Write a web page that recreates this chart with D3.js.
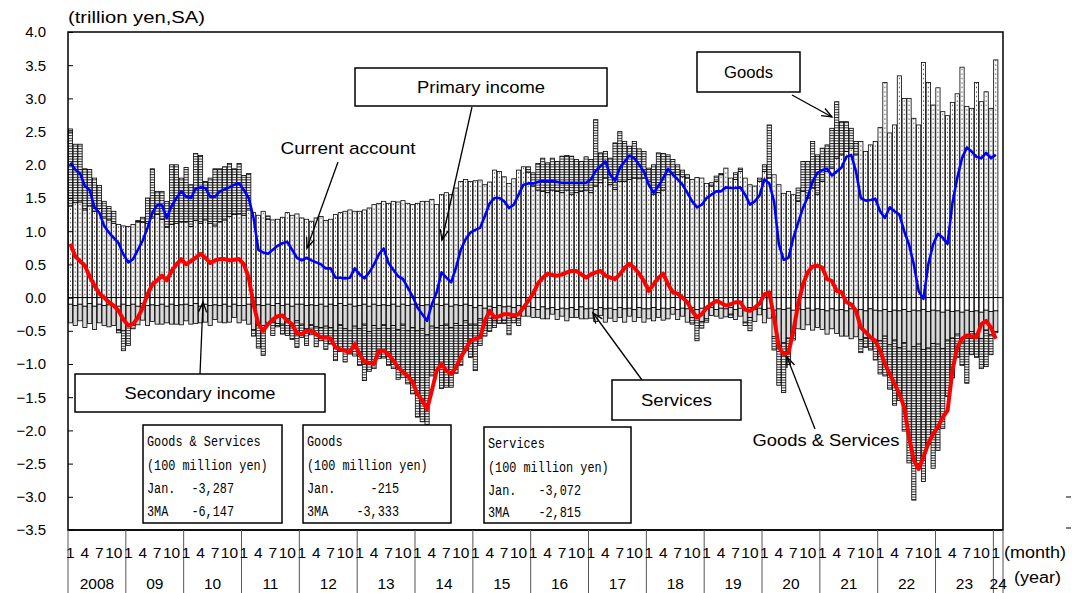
<!DOCTYPE html>
<html><head><meta charset="utf-8">
<script src="https://cdn.jsdelivr.net/npm/d3@7/dist/d3.min.js"></script>
<style>body{margin:0;background:#fff}svg{display:block}</style>
</head><body>
<svg id="chart" width="1072" height="593"></svg>
<script>
// ---------------- DATA (trillion yen, seasonally adjusted) ----------------
const startYear = 2008;
const yearLabels = ["2008","09","10","11","12","13","14","15","16","17","18","19","20","21","22","23","24"];
const monthTickLabels = ["1","4","7","10"];
const monthTickOffsets = [0,3,6,9];
const yTicks = [4.0,3.5,3.0,2.5,2.0,1.5,1.0,0.5,0.0,-0.5,-1.0,-1.5,-2.0,-2.5,-3.0,-3.5];

// monthly, Jan 2008 .. Jan 2024
const primaryIncome = [
1.38,1.43,1.44,1.32,1.38,1.30,1.34,1.20,1.17,1.12,1.10,1.08,
1.07,1.10,1.14,1.13,1.12,1.20,1.25,1.18,1.06,1.10,1.12,1.14,
1.14,1.07,1.16,1.12,1.17,1.12,1.08,1.14,1.17,1.22,1.25,1.26,
1.24,1.32,1.28,1.24,1.30,1.18,1.17,1.18,1.21,1.28,1.24,1.26,
1.20,1.18,1.15,1.20,1.22,1.16,1.18,1.25,1.28,1.30,1.32,1.30,
1.30,1.32,1.35,1.40,1.42,1.45,1.42,1.45,1.44,1.46,1.42,1.40,
1.42,1.45,1.45,1.48,1.40,1.55,1.58,1.55,1.65,1.75,1.78,1.75,
1.76,1.77,1.70,1.74,1.92,1.90,1.82,1.72,1.79,1.92,1.97,1.89,
1.68,1.62,1.60,1.58,1.62,1.60,1.58,1.62,1.55,1.58,1.60,1.62,
1.58,1.68,1.73,1.80,1.70,1.63,1.75,1.75,1.78,1.80,1.79,1.80,
1.75,1.55,1.58,1.62,1.85,1.88,1.85,1.82,1.80,1.78,1.81,1.80,
1.72,1.68,1.75,1.85,1.95,1.80,1.78,1.90,1.80,1.70,1.68,1.75,
1.90,1.80,1.85,1.70,1.57,1.60,1.55,1.45,1.60,1.50,1.65,1.55,
1.75,1.90,1.95,2.10,2.15,2.20,2.25,2.15,2.35,2.20,2.30,2.35,
2.56,3.24,2.48,2.60,3.34,3.00,3.00,2.70,2.60,3.54,3.24,2.90,
3.16,2.80,2.74,2.94,3.07,3.47,2.88,2.85,3.24,2.95,3.10,2.85,
3.58];

const goods = [
1.16,0.88,0.87,0.62,0.55,0.50,0.35,0.25,0.20,0.18,-0.05,-0.30,
-0.30,-0.05,0.02,0.08,0.38,0.74,0.35,0.42,0.39,0.90,0.88,0.66,
0.82,0.63,1.01,1.02,0.58,0.68,0.86,0.80,0.80,0.80,0.69,0.76,
0.60,0.55,-0.10,-0.35,-0.45,0.05,-0.20,-0.05,-0.15,-0.25,-0.20,-0.40,
-0.20,-0.25,-0.15,-0.30,-0.20,-0.35,-0.25,-0.45,-0.40,-0.50,-0.35,-0.45,
-0.55,-0.85,-0.60,-0.65,-0.45,-0.50,-0.55,-0.65,-0.75,-0.80,-0.80,-1.00,
-1.30,-1.40,-1.35,-0.75,-0.65,-0.95,-0.95,-0.90,-0.75,-0.60,-0.45,-0.50,
-0.70,-0.40,-0.20,-0.20,-0.10,-0.12,-0.05,-0.25,-0.08,-0.10,0.00,0.08,
0.20,0.40,0.50,0.45,0.48,0.45,0.55,0.52,0.58,0.50,0.45,0.50,
0.50,1.00,0.45,0.40,0.40,0.70,0.75,0.60,0.50,0.55,0.45,0.40,
0.20,0.45,0.60,0.55,0.30,0.20,0.15,0.10,0.05,-0.10,-0.35,-0.10,
-0.05,0.05,0.08,0.02,0.00,-0.05,0.10,0.05,-0.05,-0.20,0.00,0.05,
0.10,0.80,-0.20,-0.60,-0.75,-0.40,-0.10,0.20,0.45,0.55,0.70,0.60,
0.50,0.40,0.60,0.85,0.50,0.45,0.30,0.20,-0.20,-0.15,-0.20,-0.30,
-0.50,-0.60,-0.67,-0.98,-0.80,-1.33,-1.68,-2.31,-1.80,-1.99,-1.45,-1.88,
-1.60,-1.20,-0.85,-0.60,-0.35,-0.35,-0.70,-0.35,-0.35,-0.45,-0.55,-0.30,
-0.02];

const services = [
-0.28,-0.30,-0.25,-0.32,-0.30,-0.35,-0.28,-0.30,-0.33,-0.30,-0.35,-0.40,
-0.30,-0.32,-0.28,-0.25,-0.30,-0.25,-0.28,-0.30,-0.25,-0.30,-0.28,-0.30,
-0.25,-0.28,-0.30,-0.25,-0.27,-0.30,-0.22,-0.25,-0.28,-0.24,-0.20,-0.26,
-0.22,-0.30,-0.35,-0.30,-0.30,-0.28,-0.25,-0.30,-0.28,-0.22,-0.30,-0.25,
-0.30,-0.35,-0.30,-0.32,-0.35,-0.30,-0.35,-0.38,-0.32,-0.35,-0.40,-0.30,
-0.35,-0.30,-0.38,-0.32,-0.35,-0.30,-0.35,-0.32,-0.35,-0.30,-0.38,-0.35,
-0.40,-0.35,-0.45,-0.30,-0.35,-0.30,-0.30,-0.32,-0.28,-0.30,-0.25,-0.28,
-0.25,-0.20,-0.22,-0.18,-0.20,-0.15,-0.20,-0.18,-0.15,-0.20,-0.12,-0.15,
-0.15,-0.12,-0.18,-0.15,-0.10,-0.15,-0.12,-0.18,-0.15,-0.12,-0.18,-0.15,
-0.15,-0.18,-0.12,-0.20,-0.15,-0.18,-0.15,-0.20,-0.12,-0.18,-0.15,-0.20,
-0.15,-0.20,-0.12,-0.18,-0.15,-0.10,-0.15,-0.12,-0.20,-0.15,-0.12,-0.20,
-0.15,-0.12,-0.10,-0.15,-0.12,-0.10,-0.15,-0.12,-0.20,-0.15,-0.18,-0.10,
-0.20,-0.15,-0.40,-0.55,-0.50,-0.45,-0.35,-0.30,-0.30,-0.25,-0.30,-0.28,
-0.30,-0.35,-0.30,-0.35,-0.40,-0.38,-0.45,-0.40,-0.45,-0.40,-0.42,-0.45,
-0.45,-0.40,-0.50,-0.45,-0.55,-0.50,-0.60,-0.55,-0.50,-0.60,-0.55,-0.50,
-0.50,-0.55,-0.45,-0.40,-0.35,-0.45,-0.40,-0.30,-0.35,-0.40,-0.30,-0.35,
-0.31];

const secondaryIncome = [
-0.10,-0.12,-0.10,-0.13,-0.09,-0.13,-0.10,-0.12,-0.11,-0.12,-0.13,-0.10,
-0.12,-0.10,-0.13,-0.09,-0.12,-0.11,-0.12,-0.10,-0.13,-0.10,-0.12,-0.11,
-0.10,-0.12,-0.09,-0.13,-0.10,-0.12,-0.11,-0.12,-0.10,-0.13,-0.10,-0.12,
-0.12,-0.10,-0.13,-0.11,-0.12,-0.10,-0.12,-0.09,-0.12,-0.10,-0.13,-0.10,
-0.10,-0.12,-0.11,-0.12,-0.10,-0.13,-0.10,-0.12,-0.09,-0.12,-0.10,-0.13,
-0.12,-0.10,-0.13,-0.10,-0.12,-0.11,-0.12,-0.10,-0.13,-0.10,-0.12,-0.10,
-0.10,-0.12,-0.11,-0.13,-0.10,-0.12,-0.10,-0.13,-0.11,-0.12,-0.10,-0.12,
-0.15,-0.12,-0.16,-0.13,-0.15,-0.12,-0.14,-0.13,-0.15,-0.12,-0.16,-0.13,
-0.15,-0.18,-0.14,-0.17,-0.15,-0.18,-0.16,-0.17,-0.15,-0.18,-0.14,-0.17,
-0.16,-0.18,-0.15,-0.17,-0.16,-0.18,-0.15,-0.17,-0.16,-0.18,-0.15,-0.17,
-0.17,-0.15,-0.18,-0.16,-0.17,-0.15,-0.18,-0.16,-0.17,-0.15,-0.18,-0.16,
-0.17,-0.15,-0.18,-0.16,-0.17,-0.15,-0.18,-0.16,-0.17,-0.15,-0.18,-0.16,
-0.18,-0.16,-0.19,-0.17,-0.18,-0.16,-0.19,-0.17,-0.18,-0.16,-0.19,-0.17,
-0.18,-0.20,-0.17,-0.19,-0.18,-0.20,-0.17,-0.19,-0.18,-0.20,-0.17,-0.19,
-0.20,-0.18,-0.21,-0.19,-0.20,-0.18,-0.21,-0.19,-0.20,-0.18,-0.21,-0.19,
-0.20,-0.22,-0.19,-0.21,-0.20,-0.22,-0.19,-0.21,-0.20,-0.22,-0.19,-0.21,
-0.20];

// 3-month moving averages (lines)
const currentAccount3MA = [
2.03,1.93,1.87,1.68,1.62,1.36,1.28,1.08,0.98,0.90,0.82,0.65,
0.53,0.58,0.72,0.86,1.05,1.28,1.39,1.39,1.20,1.38,1.50,1.60,
1.52,1.50,1.64,1.66,1.65,1.52,1.52,1.60,1.63,1.66,1.70,1.72,
1.62,1.50,1.20,0.72,0.68,0.66,0.72,0.78,0.82,0.84,0.72,0.60,
0.56,0.60,0.56,0.53,0.50,0.44,0.44,0.30,0.30,0.29,0.30,0.44,
0.35,0.29,0.38,0.50,0.65,0.74,0.52,0.42,0.32,0.28,0.15,0.02,
-0.15,-0.25,-0.35,-0.10,0.08,0.38,0.30,0.23,0.45,0.72,0.88,0.98,
1.02,1.05,1.23,1.42,1.50,1.50,1.45,1.35,1.40,1.55,1.70,1.72,
1.72,1.74,1.76,1.75,1.76,1.74,1.73,1.73,1.73,1.73,1.73,1.73,
1.78,1.91,1.98,2.05,1.85,1.76,1.95,2.05,2.14,2.10,2.00,1.90,
1.70,1.58,1.68,1.80,1.94,1.85,1.78,1.70,1.58,1.45,1.36,1.40,
1.50,1.55,1.60,1.60,1.66,1.65,1.65,1.66,1.55,1.40,1.45,1.54,
1.78,1.72,1.45,0.80,0.57,0.60,0.90,1.13,1.35,1.52,1.75,1.88,
1.92,1.94,1.84,1.90,1.96,2.12,2.15,1.90,1.50,1.46,1.47,1.49,
1.30,1.20,1.36,1.30,1.25,1.00,0.80,0.50,0.10,-0.02,0.50,0.80,
0.96,0.90,0.81,1.42,1.80,2.10,2.26,2.20,2.12,2.10,2.18,2.10,
2.15];

const goodsServices3MA = [
0.81,0.62,0.55,0.48,0.32,0.18,0.06,0.00,-0.07,-0.12,-0.20,-0.33,
-0.42,-0.40,-0.30,-0.15,0.05,0.20,0.26,0.33,0.26,0.40,0.50,0.58,
0.50,0.55,0.60,0.66,0.60,0.52,0.56,0.58,0.58,0.56,0.57,0.58,
0.50,0.30,-0.10,-0.40,-0.50,-0.40,-0.33,-0.28,-0.27,-0.35,-0.40,-0.54,
-0.55,-0.50,-0.50,-0.55,-0.60,-0.60,-0.62,-0.75,-0.78,-0.80,-0.82,-0.70,
-0.85,-0.97,-0.98,-1.00,-0.80,-0.80,-0.85,-0.95,-1.05,-1.12,-1.18,-1.27,
-1.45,-1.55,-1.68,-1.40,-1.10,-1.00,-1.10,-1.15,-1.05,-0.90,-0.78,-0.65,
-0.62,-0.60,-0.35,-0.20,-0.30,-0.28,-0.25,-0.25,-0.27,-0.25,-0.15,-0.05,
0.06,0.21,0.30,0.36,0.34,0.33,0.35,0.38,0.40,0.40,0.35,0.30,
0.35,0.38,0.40,0.33,0.30,0.28,0.35,0.45,0.51,0.45,0.36,0.25,
0.10,0.20,0.30,0.36,0.20,0.08,0.06,0.00,-0.07,-0.20,-0.30,-0.25,
-0.15,-0.10,-0.05,-0.08,-0.12,-0.10,-0.07,-0.07,-0.18,-0.20,-0.15,-0.09,
0.05,0.08,-0.30,-0.75,-0.85,-0.83,-0.50,-0.10,0.20,0.38,0.47,0.48,
0.45,0.28,0.25,0.10,0.08,-0.07,-0.10,-0.20,-0.45,-0.52,-0.60,-0.65,
-0.80,-1.00,-1.15,-1.30,-1.45,-1.65,-2.10,-2.45,-2.58,-2.40,-2.20,-2.05,
-1.95,-1.80,-1.70,-1.10,-0.75,-0.62,-0.57,-0.58,-0.60,-0.40,-0.35,-0.45,
-0.62];

// latest-month summary boxes
const summaryBoxes = [
  {title:"Goods & Services", jan:"-3,287", ma:"-6,147"},
  {title:"Goods",            jan:"-215",   ma:"-3,333"},
  {title:"Services",         jan:"-3,072", ma:"-2,815"}
];

// ---------------- DRAWING ----------------
const svg = d3.select("#chart");
const nMonths = primaryIncome.length;          // 193
const L = 68, R = 1003, T = 32, B = 530;
const x = d3.scaleLinear().domain([0, nMonths + 1]).range([L, R]);
const y = d3.scaleLinear().domain([-3.5, 4.0]).range([B, T]);
const sans = "'Liberation Sans', Arial, sans-serif";
const mono = "'Liberation Mono', 'DejaVu Sans Mono', monospace";

const defs = svg.append("defs");
const bw = x(1) - x(0);
const hatch = defs.append("pattern").attr("id","hatch").attr("patternUnits","userSpaceOnUse")
  .attr("width", 8).attr("height", 2.6);
hatch.append("rect").attr("width",8).attr("height",2.6).attr("fill","#fff");
hatch.append("rect").attr("y",0).attr("width",8).attr("height",1).attr("fill","#222");
const dots = defs.append("pattern").attr("id","dots").attr("patternUnits","userSpaceOnUse")
  .attr("x", L).attr("width", bw).attr("height", 4.5);
dots.append("rect").attr("width",bw).attr("height",4.5).attr("fill","#fff");
dots.append("rect").attr("x", bw/2 - 0.5).attr("y",1.5).attr("width",1).attr("height",1).attr("fill","#000");

// stacking (series order like a stacked column chart)
const series = [
  {arr: secondaryIncome, fill: "#ffffff"},
  {arr: primaryIncome,   fill: "url(#dots)"},
  {arr: services,        fill: "#d9d9d9"},
  {arr: goods,           fill: "url(#hatch)"}
];
const segs = [];
d3.range(nMonths).forEach(i => {
  let pos = 0, neg = 0;
  series.forEach(s => {
    const v = s.arr[i];
    if (v >= 0) { segs.push({i, a: pos, b: pos + v, fill: s.fill}); pos += v; }
    else        { segs.push({i, a: neg, b: neg + v, fill: s.fill}); neg += v; }
  });
});

svg.append("g").selectAll("rect").data(segs.filter(d => Math.abs(d.b - d.a) > 0.001)).join("rect")
  .attr("x", d => x(d.i) + 0.3)
  .attr("width", bw - 0.6)
  .attr("y", d => y(Math.max(d.a, d.b)))
  .attr("height", d => Math.abs(y(d.a) - y(d.b)))
  .attr("fill", d => d.fill)
  .attr("stroke", "#000").attr("stroke-width", 0.8);

// zero line
svg.append("line").attr("x1", L).attr("x2", R).attr("y1", y(0)).attr("y2", y(0))
  .attr("stroke","#000").attr("stroke-width",1);

// lines
const lineGen = arr => d3.line().x((d,i) => x(i + 0.5)).y(d => y(d))(arr);
svg.append("path").attr("d", lineGen(currentAccount3MA)).attr("fill","none")
  .attr("stroke","#0000ff").attr("stroke-width",2.6).attr("stroke-linejoin","round");
svg.append("path").attr("d", lineGen(goodsServices3MA)).attr("fill","none")
  .attr("stroke","#ff0000").attr("stroke-width",4).attr("stroke-linejoin","round");

// frame
svg.append("rect").attr("x", L).attr("y", T).attr("width", R - L).attr("height", B - T)
  .attr("fill","none").attr("stroke","#000").attr("stroke-width",1.5);

// y axis
const yAxis = d3.axisLeft(y).tickValues(yTicks).tickFormat(d3.format(".1f"))
  .tickSizeInner(-5).tickSizeOuter(0).tickPadding(22);
const ga = svg.append("g").attr("transform", `translate(${L},0)`).call(yAxis);
ga.select(".domain").remove();
ga.selectAll("line").attr("stroke","#000");
ga.selectAll("text").attr("font-family", sans).attr("font-size", 15).attr("fill","#000");

function fitText(sel, len) {
  return sel.attr("textLength", len).attr("lengthAdjust", "spacingAndGlyphs");
}
fitText(svg.append("text").attr("x", 68).attr("y", 23).attr("font-family", sans).attr("font-size", 16)
  .text("(trillion yen,SA)"), 137);

// x axis table
const years = yearLabels.map((lab, k) => ({lab, s: k*12, e: Math.min(k*12 + 12, nMonths + 1)}));
const gx = svg.append("g");
gx.append("line").attr("x1", L).attr("x2", R).attr("y1", B).attr("y2", B).attr("stroke","#000").attr("stroke-width",1.5);
gx.selectAll("line.sep").data(years.map(d => d.s).concat([nMonths + 1])).join("line").attr("class","sep")
  .attr("x1", d => x(d)).attr("x2", d => x(d)).attr("y1", B).attr("y2", 593)
  .attr("stroke","#555").attr("stroke-width",1);
const mticks = [];
years.forEach(yr => monthTickOffsets.forEach((o, j) => {
  if (yr.s + o < nMonths) mticks.push({m: yr.s + o, lab: monthTickLabels[j]});
}));
gx.selectAll("text.m").data(mticks).join("text").attr("class","m")
  .attr("x", d => x(d.m + 0.5)).attr("y", 558).attr("text-anchor","middle")
  .attr("font-family", sans).attr("font-size", 15.5).text(d => d.lab);
gx.selectAll("text.yr").data(years).join("text").attr("class","yr")
  .attr("x", d => (x(d.s) + x(d.e)) / 2).attr("y", 589).attr("text-anchor","middle")
  .attr("font-family", sans).attr("font-size", 15.5).text(d => d.lab);
fitText(svg.append("text").attr("x", 1004).attr("y", 558).attr("font-family", sans).attr("font-size", 16).text("(month)"), 62);
fitText(svg.append("text").attr("x", 1014).attr("y", 583).attr("font-family", sans).attr("font-size", 16).text("(year)"), 47);
svg.append("line").attr("x1",1066).attr("x2",1071).attr("y1",497).attr("y2",497).attr("stroke","#000");
svg.append("line").attr("x1",1066).attr("x2",1071).attr("y1",528).attr("y2",528).attr("stroke","#000");

// annotations
function arrow(x1, y1, x2, y2) {
  const g = svg.append("g").attr("stroke","#000").attr("stroke-width",1.3).attr("fill","none");
  g.append("line").attr("x1",x1).attr("y1",y1).attr("x2",x2).attr("y2",y2);
  const ang = Math.atan2(y2 - y1, x2 - x1), len = 11, sp = 0.38;
  g.append("polyline").attr("points", [
    [x2 - len*Math.cos(ang - sp), y2 - len*Math.sin(ang - sp)],
    [x2, y2],
    [x2 - len*Math.cos(ang + sp), y2 - len*Math.sin(ang + sp)]].map(p => p.join(",")).join(" "));
}
function labelBox(x0, y0, w, h, txt, tl) {
  svg.append("rect").attr("x",x0).attr("y",y0).attr("width",w).attr("height",h)
    .attr("fill","#fff").attr("stroke","#000").attr("stroke-width",1.5);
  fitText(svg.append("text").attr("x", x0 + w/2 - tl/2).attr("y", y0 + h/2 + 6)
    .attr("font-family", sans).attr("font-size", 17).text(txt), tl);
}
function label(cx, cy, txt, tl) {
  fitText(svg.append("text").attr("x", cx - tl/2).attr("y", cy + 6)
    .attr("font-family", sans).attr("font-size", 17).text(txt), tl);
}
arrow(472, 107, 442, 240);
labelBox(355, 68, 252, 38, "Primary income", 128);
arrow(338, 162, 307, 248);
label(348, 148, "Current account", 135);
arrow(792, 95, 832, 117);
labelBox(697, 52, 103, 40, "Goods", 49);
arrow(200, 374, 203, 302);
labelBox(75, 374, 250, 38, "Secondary income", 151);
arrow(642, 380, 593, 313);
labelBox(612, 380, 129, 40, "Services", 71);
arrow(815, 429, 787, 357);
label(826, 440, "Goods & Services", 147);

// summary boxes
const sb = [
  {x:143, y:425, w:139, h:98, vx:234, ty:[446,470,493,516]},
  {x:303, y:425, w:148, h:98, vx:399, ty:[446,470,493,516]},
  {x:484, y:427, w:147, h:96, vx:581, ty:[448,472,495,517]}
];
const cw = 7.1;
summaryBoxes.forEach((d, k) => {
  const b = sb[k];
  svg.append("rect").attr("x", b.x).attr("y", b.y).attr("width", b.w).attr("height", b.h)
    .attr("fill","#fff").attr("stroke","#000").attr("stroke-width",1.5);
  const t = (xx, yy, s, anchor) => fitText(svg.append("text").attr("x", anchor === "end" ? xx - s.length*cw : xx).attr("y", yy)
    .attr("font-family", mono).attr("font-size", 14).text(s), s.length*cw);
  t(b.x + 4, b.ty[0], d.title);
  t(b.x + 4, b.ty[1], "(100 million yen)");
  t(b.x + 4, b.ty[2], "Jan.");
  t(b.vx, b.ty[2], d.jan, "end");
  t(b.x + 4, b.ty[3], "3MA");
  t(b.vx, b.ty[3], d.ma, "end");
});
</script>
</body></html>
